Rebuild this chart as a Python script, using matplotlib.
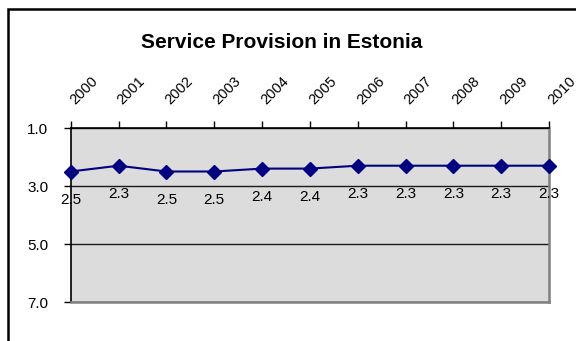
import matplotlib
matplotlib.use('Agg')
import matplotlib.pyplot as plt
import matplotlib.transforms as mtransforms
from matplotlib.patches import Rectangle

plt.rcParams['font.family'] = ['Liberation Sans', 'DejaVu Sans']

years = [2000, 2001, 2002, 2003, 2004, 2005, 2006, 2007, 2008, 2009, 2010]
values = [2.5, 2.3, 2.5, 2.5, 2.4, 2.4, 2.3, 2.3, 2.3, 2.3, 2.3]
ytick_vals = [1.0, 3.0, 5.0, 7.0]
title = 'Service Provision in Estonia'

fig = plt.figure(figsize=(5.76, 3.41), dpi=100)
W, H = 576, 341

# outer chart border (cut by the image on the right and bottom)
fig.patches.append(Rectangle((8 / W, -0.2), 2, 1.2 - 9 / H, transform=fig.transFigure,
                             fill=False, edgecolor='black', lw=1.8, zorder=0))

ax = fig.add_axes([70.7 / W, 1 - 302 / H, (549 - 70.7) / W, (302 - 128) / H])
ax.set_facecolor('#DCDCDC')

ax.plot(years, values, color='#000080', lw=1.5, marker='D', markersize=7.5,
        clip_on=False, zorder=5)

for x, v in zip(years, values):
    ax.annotate(f'{v:.1f}', (x, v), xytext=(0, -20.5), textcoords='offset points',
                ha='center', va='center', fontsize=11, color='black',
                annotation_clip=False, zorder=6)

ax.set_xlim(years[0], years[-1])
ax.set_ylim(7, 1)
ax.set_yticks(ytick_vals)
ax.set_yticklabels([f'{v:.1f}' for v in ytick_vals], fontsize=11)
ax.set_xticks(years)
ax.set_xticklabels([str(y) for y in years], fontsize=10.5, rotation=45,
                   rotation_mode='anchor', ha='left', va='baseline')

ax.xaxis.tick_top()
ax.tick_params(axis='x', direction='out', length=5, width=1, pad=11.5, color='black')
ax.tick_params(axis='y', direction='out', length=5, width=1, pad=11, color='black')

# shift year labels a little to the right, like the original
shift = mtransforms.ScaledTranslation(3 / 72, 0, fig.dpi_scale_trans)
for lbl in ax.get_xticklabels():
    lbl.set_transform(lbl.get_transform() + shift)

ax.grid(axis='y', color='#1a1a1a', lw=1)
ax.set_axisbelow(True)

for side in ['top', 'left']:
    ax.spines[side].set_color('black')
    ax.spines[side].set_linewidth(1.2)
for side in ['right', 'bottom']:
    ax.spines[side].set_color('#808080')
    ax.spines[side].set_linewidth(1.8)

fig.text(282 / W, 1 - 48.5 / H, title, ha='center', va='baseline',
         fontsize=15, fontweight='bold')

fig.savefig('out.png', dpi=100)
